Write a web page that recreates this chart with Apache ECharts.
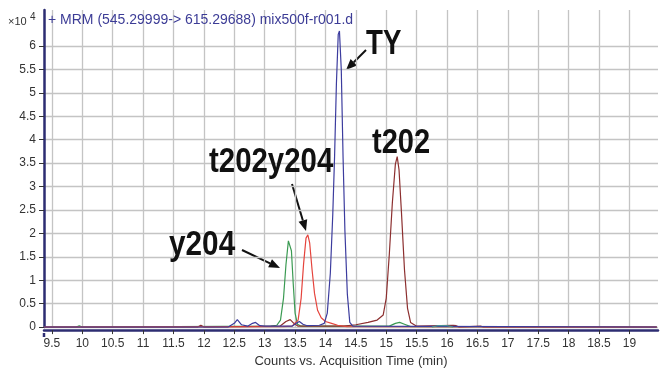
<!DOCTYPE html>
<html>
<head>
<meta charset="utf-8">
<script src="https://cdn.jsdelivr.net/npm/echarts@6/dist/echarts.min.js"></script>
<style>
  html, body { margin: 0; padding: 0; background: #fff; }
  #chart { width: 660px; height: 373px; }
</style>
</head>
<body>
<div id="chart"></div>
<script>
// Acquisition time (min) and counts (x10^4) for each MRM trace
const timeTY = [9.37, 12.4, 12.5, 12.55, 12.62, 12.72, 12.8, 12.85, 12.92, 13.0, 13.45, 13.52, 13.57, 13.63, 13.7, 13.9, 13.98, 14.03, 14.08, 14.12, 14.15, 14.18, 14.21, 14.23, 14.26, 14.29, 14.32, 14.36, 14.4, 14.45, 19.45];
const countsTY = [0, 0, 0.08, 0.16, 0.05, 0.02, 0.08, 0.1, 0.03, 0.02, 0.02, 0.08, 0.12, 0.06, 0.03, 0.04, 0.08, 0.3, 1.15, 2.4, 3.65, 5.2, 6.25, 6.32, 5.5, 3.6, 2.05, 0.7, 0.1, 0.02, 0];

const timeT202Y204 = [9.37, 13.3, 13.45, 13.55, 13.6, 13.64, 13.68, 13.71, 13.74, 13.78, 13.82, 13.87, 13.93, 14.0, 14.1, 14.2, 14.35, 19.45];
const countsT202Y204 = [0, 0.01, 0.02, 0.15, 0.62, 1.35, 1.9, 1.97, 1.8, 1.22, 0.72, 0.36, 0.2, 0.12, 0.08, 0.04, 0.01, 0];

const timeY204 = [9.37, 9.9, 9.95, 10.0, 13.1, 13.2, 13.26, 13.31, 13.35, 13.39, 13.41, 13.44, 13.47, 13.5, 13.54, 13.6, 15.05, 15.15, 15.22, 15.3, 15.4, 19.45];
const countsY204 = [0, 0, 0.03, 0, 0.02, 0.04, 0.15, 0.62, 1.33, 1.84, 1.88, 1.63, 0.92, 0.3, 0.06, 0.02, 0.02, 0.08, 0.1, 0.06, 0.01, 0];

const timeT202 = [9.37, 11.9, 11.95, 12.0, 13.25, 13.35, 13.42, 13.48, 13.55, 14.3, 14.5, 14.7, 14.85, 14.95, 15.0, 15.05, 15.1, 15.15, 15.18, 15.21, 15.25, 15.3, 15.35, 15.4, 15.5, 16.1, 16.15, 16.2, 16.55, 16.6, 19.45];
const countsT202 = [0, 0, 0.04, 0, 0.02, 0.12, 0.16, 0.08, 0.02, 0.02, 0.05, 0.1, 0.15, 0.26, 0.62, 1.55, 2.65, 3.48, 3.64, 3.36, 2.45, 1.22, 0.4, 0.1, 0.02, 0.04, 0.03, 0, 0.02, 0, 0];

const timeMinor = [15.75, 15.85, 16.0, 16.1];
const countsMinor = [0, 0.03, 0.03, 0];

const xTicks = [9.5, 10, 10.5, 11, 11.5, 12, 12.5, 13, 13.5, 14, 14.5, 15, 15.5, 16, 16.5, 17, 17.5, 18, 18.5, 19];
const yTicks = [0, 0.5, 1, 1.5, 2, 2.5, 3, 3.5, 4, 4.5, 5, 5.5, 6];

const titleText = '+ MRM (545.29999-> 615.29688) mix500f-r001.d';
const xAxisTitle = 'Counts vs. Acquisition Time (min)';

function pairs(t, v) { return t.map((x, i) => [x, v[i]]); }

const chart = echarts.init(document.getElementById('chart'), null, { renderer: 'canvas' });

const axisColor = '#2d2d72';
const gridColor = '#c4c4c4';
const labelFont = { color: '#333', fontSize: 12, fontFamily: 'Liberation Sans, Arial, sans-serif' };

function trace(name, t, v, color) {
  return {
    name, type: 'line', data: pairs(t, v), showSymbol: false, symbol: 'none',
    lineStyle: { color, width: 1.2 }, itemStyle: { color }, animation: false, z: 3
  };
}

// Arrow annotation: shaft plus solid head at (x2, y2)
function arrow(x1, y1, x2, y2) {
  const a = Math.atan2(y2 - y1, x2 - x1);
  const len = 11, half = 4.5;
  const bx = x2 - len * Math.cos(a), by = y2 - len * Math.sin(a);
  const px = -Math.sin(a) * half, py = Math.cos(a) * half;
  return {
    type: 'group', children: [
      { type: 'line', shape: { x1, y1, x2: bx, y2: by }, style: { stroke: '#111', lineWidth: 2 } },
      { type: 'polygon', shape: { points: [[x2, y2], [bx + px, by + py], [bx - px, by - py]] }, style: { fill: '#111' } }
    ]
  };
}

// Condensed bold peak labels (horizontally squeezed bold sans)
const bigFont = 'bold 35px "Liberation Sans", Arial, sans-serif';
function bigText(text, x, y, sx) {
  return { type: 'text', x, y, scaleX: sx, style: { text, font: bigFont, fill: '#111', textVerticalAlign: 'middle' }, z: 10 };
}

chart.setOption({
  animation: false,
  backgroundColor: '#fff',
  grid: { left: 44, right: 2, top: 10, bottom: 40, containLabel: false },
  xAxis: {
    type: 'value', min: 9.37, max: 19.47,
    offset: 3,
    name: xAxisTitle, nameLocation: 'middle', nameGap: 21,
    nameTextStyle: { color: '#333', fontSize: 13, fontFamily: 'Liberation Sans, Arial, sans-serif' },
    axisLine: { show: true, onZero: false, lineStyle: { color: axisColor, width: 2.5 } },
    axisTick: { show: true, length: 4, customValues: xTicks, lineStyle: { color: '#333' } },
    axisLabel: Object.assign({ customValues: xTicks, margin: 8, formatter: v => String(v) }, labelFont),
    splitLine: { show: true, lineStyle: { color: gridColor, width: 1.3 } }
  },
  yAxis: {
    type: 'value', min: 0, max: 6.77,
    axisLine: { show: true, lineStyle: { color: axisColor, width: 2.5 } },
    axisTick: { show: true, length: 5, customValues: yTicks, lineStyle: { color: '#333' } },
    axisLabel: Object.assign({ customValues: yTicks, margin: 8, formatter: v => String(v) }, labelFont),
    splitLine: { show: true, lineStyle: { color: gridColor, width: 1.3 } }
  },
  series: [
    trace('y204', timeY204, countsY204, '#3a9a52'),
    trace('t202', timeT202, countsT202, '#8c2f2f'),
    trace('t202y204', timeT202Y204, countsT202Y204, '#e5443d'),
    trace('TY', timeTY, countsTY, '#3c3c9e'),
    trace('minor', timeMinor, countsMinor, '#4a8f8f')
  ],
  graphic: [
    { type: 'text', x: 48, y: 20, style: { text: titleText, fill: '#3c3c96', font: '14px "Liberation Sans", Arial, sans-serif', textVerticalAlign: 'middle' }, z: 10 },
    { type: 'text', x: 8, y: 22, style: { text: '×10', fill: '#333', font: '11px "Liberation Sans", Arial, sans-serif', textVerticalAlign: 'middle' }, z: 10 },
    { type: 'text', x: 30, y: 17, style: { text: '4', fill: '#333', font: '10px "Liberation Sans", Arial, sans-serif', textVerticalAlign: 'middle' }, z: 10 },
    { type: 'line', shape: { x1: 44, y1: 333, x2: 44, y2: 337 }, style: { stroke: axisColor, lineWidth: 2.5 } },
    bigText('TY', 366, 44, 0.79),
    bigText('t202', 372, 143, 0.83),
    bigText('t202y204', 209, 162, 0.84),
    bigText('y204', 169, 245, 0.85),
    arrow(366, 50, 346, 70),
    arrow(292, 184, 306, 231),
    arrow(242, 250, 280, 268)
  ]
});
</script>
</body>
</html>
